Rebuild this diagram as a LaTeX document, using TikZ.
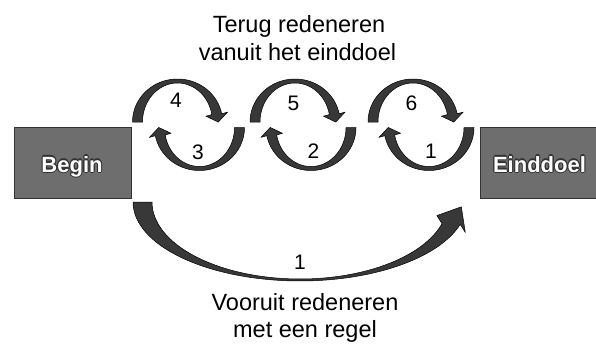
\documentclass[tikz,border=0pt]{standalone}
\usepackage{fontspec}
\setmainfont{Liberation Sans}
\usetikzlibrary{calc}

% Tapered curved arrow along an elliptical arc.
% #1,#2 centre; #3,#4 outer radii; #5,#6 inner radii;
% #7 angle of the flat tail; #8 angle where the head sits; #9 head half-width.
% Head length is taken from \headlen.
\newcommand{\turnarrow}[9]{%
  \pgfmathsetmacro\tRx{(#3+#5)/2}%
  \pgfmathsetmacro\tRy{(#4+#6)/2}%
  \pgfmathsetmacro\tTx{(#8>#7) ? -\tRx*sin(#8) : \tRx*sin(#8)}%
  \pgfmathsetmacro\tTy{(#8>#7) ? \tRy*cos(#8) : -\tRy*cos(#8)}%
  \pgfmathsetmacro\tTn{veclen(\tTx,\tTy)}%
  \pgfmathsetmacro\tUx{(\tTx)/\tTn}%
  \pgfmathsetmacro\tUy{(\tTy)/\tTn}%
  \pgfmathsetmacro\tF{(((\tUy)*cos(#8)-(\tUx)*sin(#8))<0) ? -1 : 1}%
  \pgfmathsetmacro\tNx{(\tF)*(\tUy)}%
  \pgfmathsetmacro\tNy{(\tF)*(0-(\tUx))}%
  \pgfmathsetmacro\tMx{#1+\tRx*cos(#8)}%
  \pgfmathsetmacro\tMy{#2+\tRy*sin(#8)}%
  \fill[turn]
    plot[variable=\ang, domain=#7:#8, samples=60] ({#1+#3*cos(\ang)},{#2+#4*sin(\ang)})
    -- ({\tMx+#9*(\tNx)},{\tMy+#9*(\tNy)})
    -- ({\tMx+\headlen*(\tUx)},{\tMy+\headlen*(\tUy)})
    -- ({\tMx-#9*(\tNx)},{\tMy-#9*(\tNy)})
    -- plot[variable=\ang, domain=#8:#7, samples=60] ({#1+#5*cos(\ang)},{#2+#6*sin(\ang)})
    -- cycle;
}

\begin{document}
\begin{tikzpicture}[x=1pt, y=-1pt,
  caption/.style={font=\fontsize{23.5}{28}\selectfont, text=black, anchor=base, inner sep=0pt},
  steplabel/.style={font=\fontsize{21}{24}\selectfont, text=black, inner sep=0pt},
  boxlabel/.style={font=\bfseries\fontsize{22}{26}\selectfont, text=white, anchor=base, inner sep=0pt},
  halo/.style={boxlabel, text=black!80},
  stage/.style={draw=black!80, fill=black!57, line width=0.8pt, inner sep=0pt},
  turn/.style={fill=black!78, draw=black, line width=0.5pt, line join=round}]

\fill[white] (0,0) rectangle (596,346);
\useasboundingbox (0,0) rectangle (596,346);

% start and goal boxes
\node[stage, minimum width=117pt, minimum height=71pt] (begin) at (72.5,162.5) {};
\node[stage, minimum width=116pt, minimum height=71pt] (goal) at (538,162.5) {};

% dark outline round the white box labels
\foreach \a [count=\k] in {0,45,...,315} {
  \node[halo] (beginhalo\k) at ($(72,172)+(\a:1.1)$) {Begin};
  \node[halo] (goalhalo\k) at ($(539.5,172)+(\a:1.1)$) {Einddoel};
}
\node[boxlabel] (begintext) at (72,172) {Begin};
\node[boxlabel] (goaltext) at (539.5,172) {Einddoel};

% backward reasoning loops
\def\headlen{8}
\turnarrow{177.5}{122}{45}{43}{35}{39}{180}{349}{11}
\turnarrow{199.5}{127.5}{45}{43}{35}{39}{0}{169}{11}
\turnarrow{295}{122}{45}{43}{35}{39}{180}{349}{11}
\turnarrow{311}{127.5}{45}{43}{35}{39}{0}{169}{11}
\turnarrow{413}{122}{45}{43}{35}{39}{180}{349}{11}
\turnarrow{429}{127.5}{45}{43}{35}{39}{0}{169}{11}

\node[steplabel] (n4) at (176,100) {4};
\node[steplabel] (n3) at (198,152.5) {3};
\node[steplabel] (n5) at (293.5,103) {5};
\node[steplabel] (n2) at (313.5,151) {2};
\node[steplabel] (n6) at (411.5,103) {6};
\node[steplabel] (n1) at (431,151.5) {1};

% forward reasoning arrow
\def\headlen{20}
\turnarrow{300}{202}{167}{79}{148}{77}{180}{16.4}{16.5}
\node[steplabel] (fwd) at (300,262) {1};

% captions
\node[caption] (top1) at (299,32) {Terug redeneren};
\node[caption] (top2) at (297.5,60.5) {vanuit het einddoel};
\node[caption] (bot1) at (305,310) {Vooruit redeneren};
\node[caption] (bot2) at (305,337) {met een regel};
\end{tikzpicture}
\end{document}
